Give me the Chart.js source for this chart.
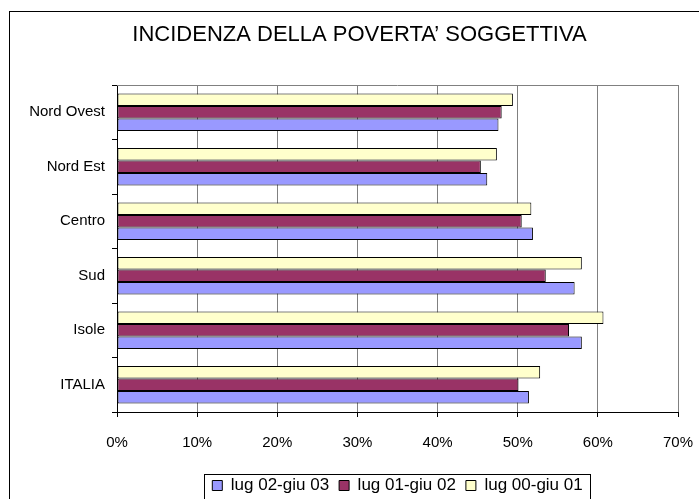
<!DOCTYPE html>
<html>
<head>
<meta charset="utf-8">
<script src="https://cdn.jsdelivr.net/npm/chart.js@4"></script>
<style>
html,body{margin:0;padding:0;background:#fff;}
canvas{display:block;}
</style>
</head>
<body>
<canvas id="c" width="699" height="499"></canvas>
<script>
const categories = ['Nord Ovest', 'Nord Est', 'Centro', 'Sud', 'Isole', 'ITALIA'];
const seriesNames = ['lug 00-giu 01', 'lug 01-giu 02', 'lug 02-giu 03'];
const lug00giu01 = [49.4, 47.4, 51.7, 58.0, 60.7, 52.8];
const lug01giu02 = [48.0, 45.4, 50.5, 53.5, 56.4, 50.1];
const lug02giu03 = [47.6, 46.2, 51.9, 57.1, 58.0, 51.4];
const xTicks = [0, 10, 20, 30, 40, 50, 60, 70];
const titleText = 'INCIDENZA DELLA POVERTA\u2019 SOGGETTIVA';

const FONT = "'Liberation Sans', Arial, sans-serif";
Chart.defaults.color = '#000';
Chart.defaults.font.family = FONT;

const frame = {
  id: 'frame',
  afterDraw(chart) {
    const ctx = chart.ctx;
    const a = chart.chartArea;
    ctx.save();
    ctx.lineWidth = 1;
    // outer chart border
    ctx.strokeStyle = '#000';
    ctx.strokeRect(9.5, 11.5, 760, 560);
    // plot top border
    ctx.strokeStyle = '#808080';
    ctx.beginPath();
    ctx.moveTo(a.left, Math.round(a.top) + 0.5);
    ctx.lineTo(a.right, Math.round(a.top) + 0.5);
    ctx.stroke();
    // legend border
    const hb = chart.legend.legendHitBoxes;
    if (hb && hb.length) {
      let l = Infinity, r = -Infinity, t = Infinity;
      hb.forEach(h => { l = Math.min(l, h.left); r = Math.max(r, h.left + h.width); t = Math.min(t, h.top); });
      ctx.strokeStyle = '#000';
      ctx.strokeRect(Math.round(l - 8) + 0.5, Math.round(t - 3) + 0.5, Math.round(r - l + 16), 60);
    }
    ctx.restore();
  }
};

new Chart(document.getElementById('c'), {
  type: 'bar',
  data: {
    labels: categories,
    datasets: [
      { label: seriesNames[0], data: lug00giu01, backgroundColor: '#FFFFCC' },
      { label: seriesNames[1], data: lug01giu02, backgroundColor: '#993366' },
      { label: seriesNames[2], data: lug02giu03, backgroundColor: '#9999FF' }
    ].map(d => Object.assign(d, { borderColor: '#000', borderWidth: 1, borderSkipped: false, categoryPercentage: 0.69, barPercentage: 1.0 }))
  },
  options: {
    indexAxis: 'y',
    responsive: false,
    animation: false,
    layout: { padding: { left: 20, right: 0, top: 0, bottom: -5 } },
    plugins: {
      title: {
        display: true,
        text: titleText,
        font: { size: 22, weight: 'normal', family: FONT },
        color: '#000',
        padding: { top: 21.8, bottom: 36.8 }
      },
      legend: {
        position: 'bottom',
        fullSize: false,
        reverse: true,
        labels: { boxWidth: 10, boxHeight: 10, padding: 10, font: { size: 17, family: FONT }, color: '#000' }
      },
      tooltip: { enabled: false }
    },
    scales: {
      x: {
        min: 0, max: 70,
        afterBuildTicks(s) { s.ticks = xTicks.map(v => ({ value: v })); },
        ticks: { callback: v => v + '%', font: { size: 15, family: FONT }, color: '#000', padding: 17, maxRotation: 0 },
        grid: { color: '#808080', tickColor: '#000', tickLength: 5, lineWidth: 1 },
        border: { color: '#000' },
        afterFit(s) { s.height = 55; s.paddingRight = 21; }
      },
      y: {
        ticks: { font: { size: 15, family: FONT }, color: '#000', padding: 7 },
        grid: { drawOnChartArea: false, tickColor: '#000', tickLength: 5, offset: true },
        border: { color: '#000' },
        afterFit(s) { s.width = 97; }
      }
    }
  },
  plugins: [frame]
});
</script>
</body>
</html>
